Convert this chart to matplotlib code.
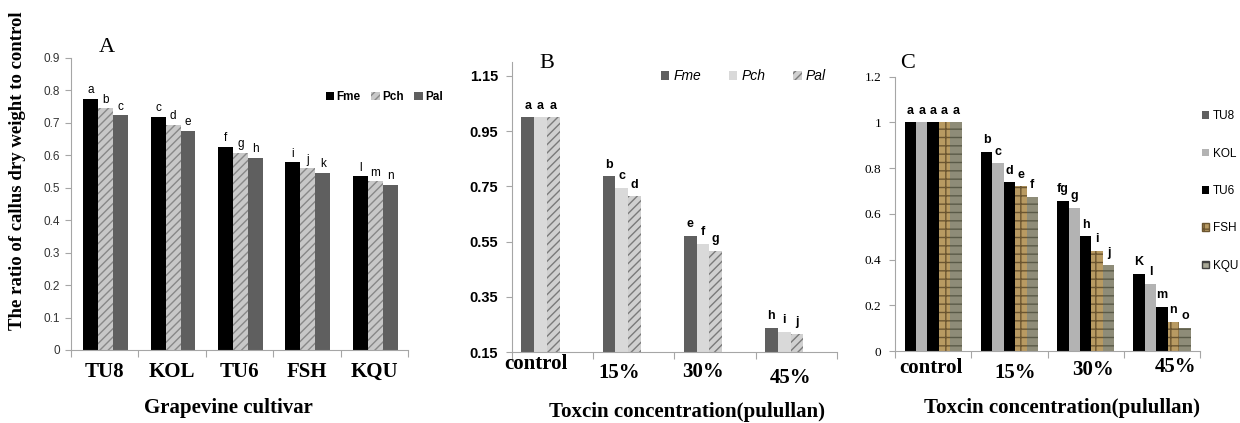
import matplotlib.pyplot as plt
import matplotlib.transforms as mtrans
from matplotlib.patches import Patch
import numpy as np

# ---- data ----
cultivars = ['TU8', 'KOL', 'TU6', 'FSH', 'KQU']
a_series = ['Fme', 'Pch', 'Pal']
a_fme = [0.773, 0.718, 0.625, 0.578, 0.535]
a_pch = [0.745, 0.693, 0.607, 0.560, 0.520]
a_pal = [0.723, 0.675, 0.592, 0.547, 0.508]
a_letters = [['a', 'b', 'c'], ['c', 'd', 'e'], ['f', 'g', 'h'], ['i', 'j', 'k'], ['l', 'm', 'n']]

conc = ['control', '15%', '30%', '45%']
b_fme = [1.0, 0.786, 0.570, 0.237]
b_pch = [1.0, 0.745, 0.541, 0.223]
b_pal = [1.0, 0.714, 0.517, 0.216]
b_letters = [['a', 'a', 'a'], ['b', 'c', 'd'], ['e', 'f', 'g'], ['h', 'i', 'j']]

c_series = ['TU8', 'KOL', 'TU6', 'FSH', 'KQU']
c_tu8 = [1.0, 0.872, 0.657, 0.337]
c_kol = [1.0, 0.822, 0.626, 0.294]
c_tu6 = [1.0, 0.738, 0.501, 0.194]
c_fsh = [1.0, 0.720, 0.439, 0.128]
c_kqu = [1.0, 0.675, 0.376, 0.102]
c_letters = [['a', 'a', 'a', 'a', 'a'], ['b', 'c', 'd', 'e', 'f'],
             ['fg', 'g', 'h', 'i', 'j'], ['K', 'l', 'm', 'n', 'o']]

serif = 'Liberation Serif'
sans = 'Liberation Sans'

fig = plt.figure(figsize=(12.4, 4.23), dpi=100)
axA = fig.add_axes([0.0573, 0.1726, 0.2718, 0.6903])
axB = fig.add_axes([0.4129, 0.1678, 0.2621, 0.6856])
axC = fig.add_axes([0.7218, 0.1702, 0.2460, 0.6485])


def style_axis(ax, ncat):
    for s in ['top', 'right']:
        ax.spines[s].set_visible(False)
    ax.spines['left'].set_color('#a6a6a6')
    ax.spines['bottom'].set_color('#a6a6a6')
    ax.set_xlim(-0.5, ncat - 0.5)
    ax.set_xticks(np.arange(ncat + 1) - 0.5)
    ax.set_xticklabels([])
    ax.tick_params(axis='x', length=5, color='#a6a6a6')
    ax.tick_params(axis='y', length=4, color='#a6a6a6', pad=6)


def put_letters(ax, xs, tops, letters, off, **kw):
    for x, t, l in zip(xs, tops, letters):
        ax.annotate(l, (x, t), xytext=(0, off), textcoords='offset points',
                    ha='center', va='bottom', **kw)


# ---- panel A ----
x = np.arange(len(cultivars))
w = 0.222
vals = [a_fme, a_pch, a_pal]
colors = ['#000000', '#c8c8c8', '#5f5f5f']
hatches = [None, '////', None]
for k, (v, c, h) in enumerate(zip(vals, colors, hatches)):
    xs = x + 0.013 + (k - 1) * w
    axA.bar(xs, v, w, color=c, hatch=h, edgecolor='#888888' if h else c,
            linewidth=0, label=a_series[k])
    put_letters(axA, xs, v, [g[k] for g in a_letters], 2, fontsize=8.5, family=sans)
axA.set_ylim(0, 0.9)
axA.set_yticks(np.arange(0, 0.91, 0.1))
axA.set_yticklabels(['0'] + ['%.1f' % t for t in np.arange(0.1, 0.91, 0.1)],
                    family=sans, fontsize=8.5, color='#333333')
style_axis(axA, len(cultivars))
axA.tick_params(axis='y', pad=4)
trA = mtrans.blended_transform_factory(axA.transData, fig.transFigure)
for xi, lab in zip(x, cultivars):
    axA.text(xi, 1 - 372 / 423, lab, transform=trA, ha='center', va='center',
             family=serif, fontweight='bold', fontsize=15)
fig.text(228 / 1240, 1 - 408 / 423, 'Grapevine cultivar', ha='center', va='center',
         family=serif, fontweight='bold', fontsize=15)
fig.text(107 / 1240, 1 - 48 / 423, 'A', ha='center', va='center', family=serif, fontsize=16)
axA.legend(loc='center left', bbox_to_anchor=(326 / 1240, 1 - 97 / 423),
           bbox_transform=fig.transFigure, ncol=3, frameon=False, borderpad=0,
           borderaxespad=0, handlelength=0.7, handleheight=0.7, handletextpad=0.2,
           columnspacing=0.9, prop={'family': sans, 'size': 8.5, 'weight': 'bold'})

# ---- panel B ----
x = np.arange(len(conc))
w = 0.157
vals = [b_fme, b_pch, b_pal]
colors = ['#5f5f5f', '#d9d9d9', '#d0d0d0']
hatches = [None, None, '////']
for k, (v, c, h) in enumerate(zip(vals, colors, hatches)):
    xs = x - 0.15 + (k - 1) * w
    axB.bar(xs, v, w, bottom=0, color=c, hatch=h, edgecolor='#7a7a7a' if h else c,
            linewidth=0, label=a_series[k])
    put_letters(axB, xs, v, [g[k] for g in b_letters], 4,
                fontsize=9, fontweight='bold', family=sans)
axB.set_ylim(0.15, 1.2)
axB.set_yticks([0.15, 0.35, 0.55, 0.75, 0.95, 1.15])
axB.set_yticklabels(['0.15', '0.35', '0.55', '0.75', '0.95', '1.15'],
                    family=sans, fontweight='bold', fontsize=10.5)
style_axis(axB, len(conc))
trB = mtrans.blended_transform_factory(axB.transData, fig.transFigure)
b_lab_pos = [(-0.21, 364), (-0.18, 373), (-0.15, 372), (-0.07, 378)]
for xi, lab, (dx, yy) in zip(x, conc, b_lab_pos):
    axB.text(xi + dx, 1 - yy / 423, lab, transform=trB, ha='center', va='center',
             family=serif, fontweight='bold', fontsize=15)
fig.text(687 / 1240, 1 - 412 / 423, 'Toxcin concentration(pulullan)', ha='center',
         va='center', family=serif, fontweight='bold', fontsize=15)
fig.text(547 / 1240, 1 - 63 / 423, 'B', ha='center', va='center', family=serif, fontsize=16)
axB.legend(loc='center left', bbox_to_anchor=(661 / 1240, 1 - 76 / 423),
           bbox_transform=fig.transFigure, ncol=3, frameon=False, borderpad=0,
           borderaxespad=0, handlelength=0.6, handleheight=0.6, handletextpad=0.3,
           columnspacing=2.0, prop={'family': sans, 'size': 10, 'style': 'italic'})

# ---- panel C ----
x = np.arange(len(conc))
w = 0.15
vals = [c_tu8, c_kol, c_tu6, c_fsh, c_kqu]
colors = ['#000000', '#b3b3b3', '#000000', '#b89a62', '#8e8c78']
hatches = [None, None, None, '++', '--']
edges = ['#000000', '#b3b3b3', '#000000', '#6b5530', '#5a5a48']
for k, (v, c, h, e) in enumerate(zip(vals, colors, hatches, edges)):
    xs = x + (k - 2) * w
    axC.bar(xs, v, w, color=c, hatch=h, edgecolor=e, linewidth=0)
    put_letters(axC, xs, v, [g[k] for g in c_letters], 4,
                fontsize=9, fontweight='bold', family=sans)
axC.set_ylim(0, 1.2)
axC.set_yticks([0, 0.2, 0.4, 0.6, 0.8, 1.0, 1.2])
axC.set_yticklabels(['0', '0.2', '0.4', '0.6', '0.8', '1', '1.2'], family=serif, fontsize=9.5)
style_axis(axC, len(conc))
trC = mtrans.blended_transform_factory(axC.transData, fig.transFigure)
c_lab_pos = [(-0.03, 368), (0.08, 373), (0.10, 370), (0.18, 367)]
for xi, lab, (dx, yy) in zip(x, conc, c_lab_pos):
    axC.text(xi + dx, 1 - yy / 423, lab, transform=trC, ha='center', va='center',
             family=serif, fontweight='bold', fontsize=15)
fig.text(1062 / 1240, 1 - 408 / 423, 'Toxcin concentration(pulullan)', ha='center',
         va='center', family=serif, fontweight='bold', fontsize=15)
fig.text(908 / 1240, 1 - 63 / 423, 'C', ha='center', va='center', family=serif, fontsize=16)
c_handles = [Patch(facecolor='#606060'), Patch(facecolor='#b3b3b3'),
             Patch(facecolor='#000000'), Patch(facecolor='#b89a62', hatch='++', edgecolor='#6b5530'),
             Patch(facecolor='#a8a896', hatch='--', edgecolor='#404040')]
axC.legend(c_handles, c_series, loc='center left', bbox_to_anchor=(1202 / 1240, 1 - 191 / 423),
           bbox_transform=fig.transFigure, frameon=False, labelspacing=2.15, borderpad=0,
           borderaxespad=0, handlelength=0.6, handleheight=0.6, handletextpad=0.3,
           prop={'family': sans, 'size': 8.5})

fig.text(18 / 1240, 1 - 171 / 423, 'The ratio of callus dry weight to control', rotation=90,
         ha='center', va='center', family=serif, fontweight='bold', fontsize=13.5)

fig.savefig('out.png', dpi=100)
